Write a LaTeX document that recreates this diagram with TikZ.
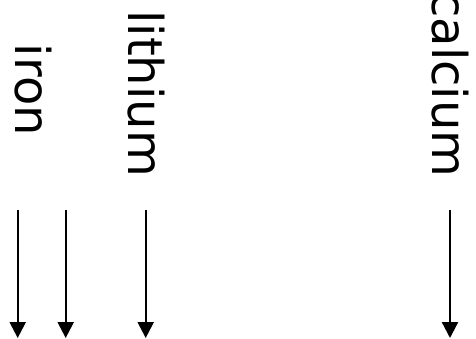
\documentclass[tikz,border=0pt]{standalone}
\usepackage{fontspec}
\setmainfont{DejaVu Sans}
\usetikzlibrary{arrows.meta}
\begin{document}
\begin{tikzpicture}[x=1pt,y=-1pt,
  elem/.style={rotate=-90,anchor=base east,inner sep=0pt,font=\fontsize{48}{50}\selectfont},
  flow/.style={line width=2.3pt,-{Triangle[length=16pt,width=16pt]}}]
\useasboundingbox (0,0) rectangle (476,338);
% element labels, read top to bottom
\node[elem] (iron) at (16,136) {iron};
\node[elem] (lithium) at (128.5,177) {lithium};
\node[elem] (calcium) at (432,177.5) {calcium};
% downward arrows
\coordinate (s1) at (17.7,210); \coordinate (e1) at (17.7,338);
\coordinate (s2) at (65.7,210); \coordinate (e2) at (65.7,338);
\coordinate (s3) at (145.7,210); \coordinate (e3) at (145.7,338);
\coordinate (s4) at (450,210); \coordinate (e4) at (450,338);
\draw[flow] (s1) -- (e1);
\draw[flow] (s2) -- (e2);
\draw[flow] (s3) -- (e3);
\draw[flow] (s4) -- (e4);
\end{tikzpicture}
\end{document}
